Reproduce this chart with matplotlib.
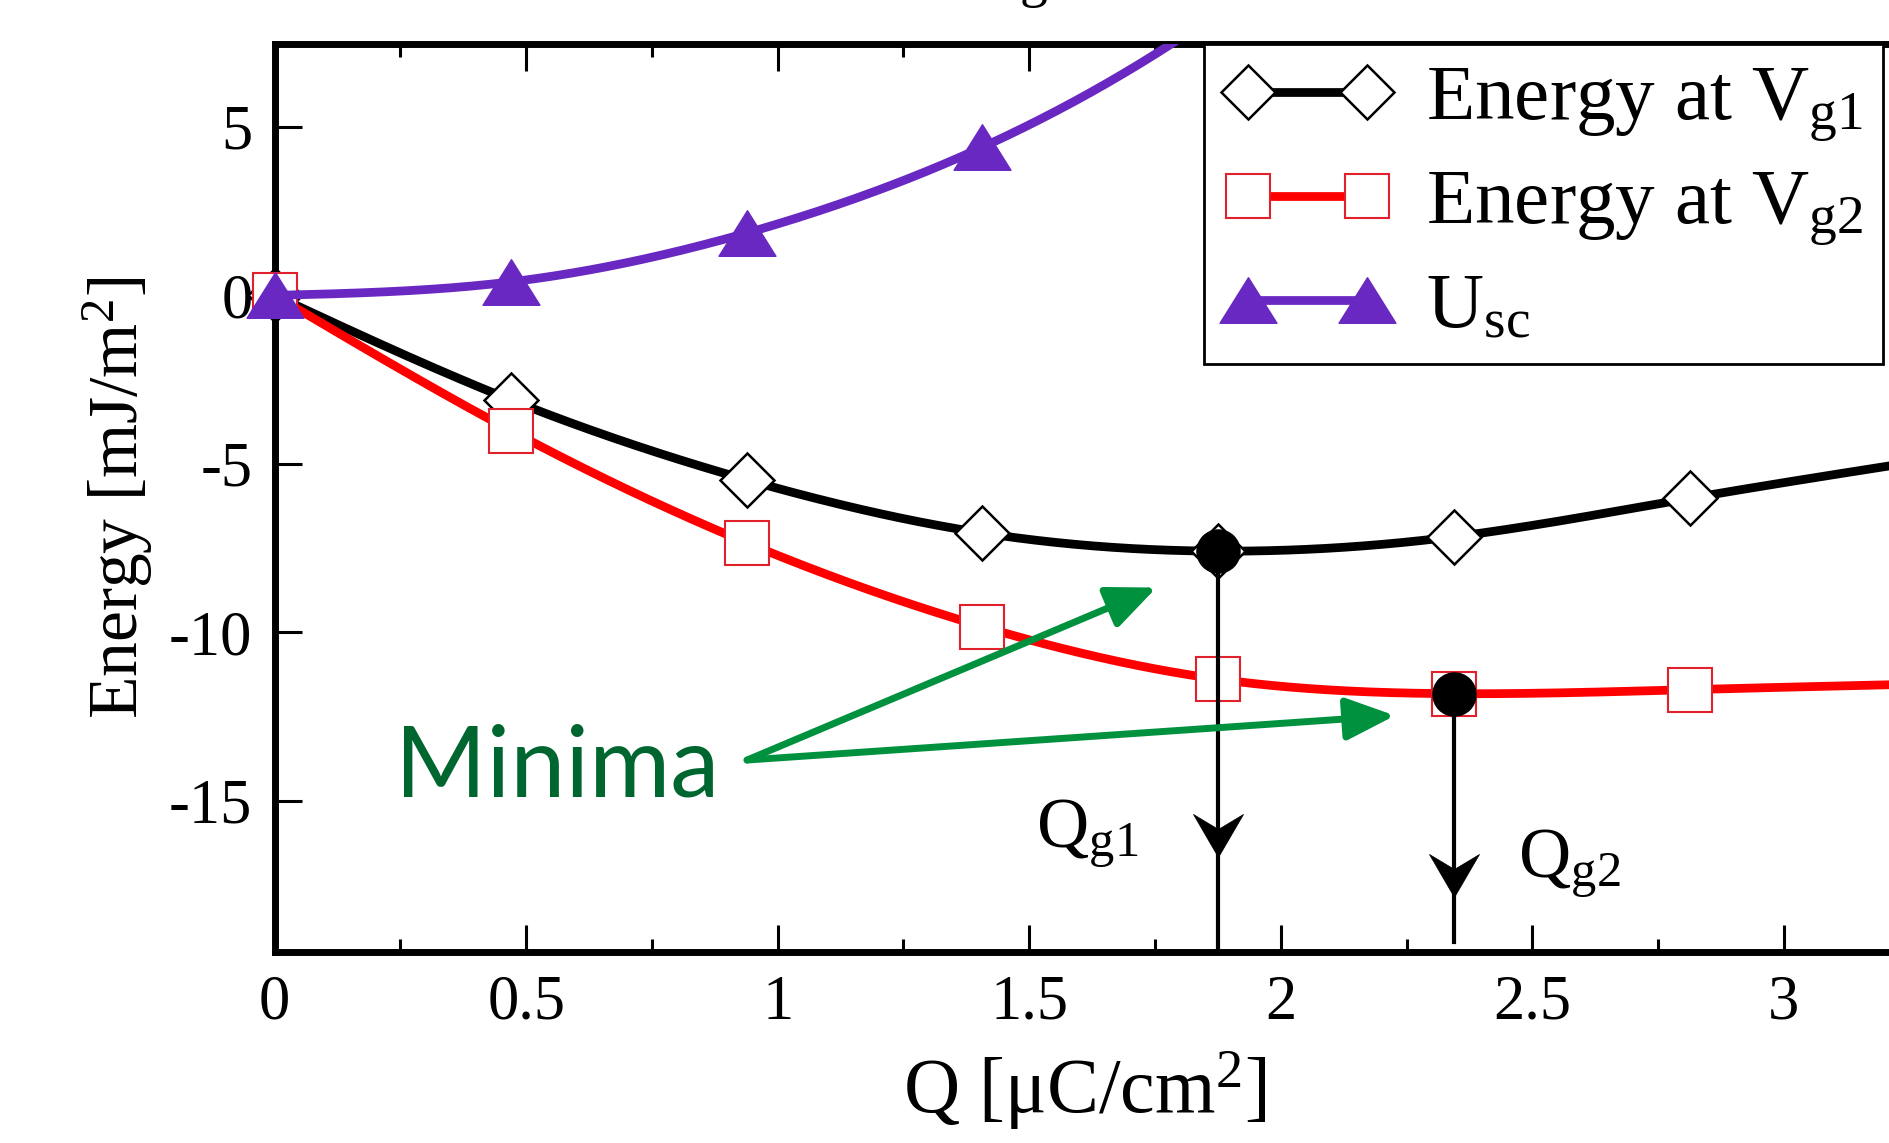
import numpy as np
import matplotlib
matplotlib.use("Agg")
import matplotlib.pyplot as plt
from matplotlib.path import Path
from matplotlib.lines import Line2D
from matplotlib.ticker import FixedLocator

plt.rcParams["font.family"] = ["Liberation Serif", "DejaVu Serif"]
plt.rcParams["mathtext.fontset"] = "custom"
plt.rcParams["mathtext.rm"] = "Liberation Serif"
plt.rcParams["mathtext.it"] = "Liberation Serif:italic"
plt.rcParams["axes.unicode_minus"] = False

# surface charge (uC/cm^2) and energies (mJ/m^2)
q = [0.0, 0.469, 0.938, 1.407, 1.876, 2.345, 2.814, 3.283]
energy_vg1 = [0.0, -3.10, -5.47, -7.05, -7.59, -7.16, -6.02, -4.89]
energy_vg2 = [0.0, -4.01, -7.34, -9.83, -11.39, -11.82, -11.70, -11.53]
u_sc = [0.0, 0.40, 1.85, 4.40, 8.4, 14.3, 22.4, 32.5]

series_labels = ["Energy at V$_{\\mathrm{g1}}$", "Energy at V$_{\\mathrm{g2}}$", "U$_{\\mathrm{sc}}$"]

# minima of the two energy curves
min_q = [1.876, 2.345]
min_energy = [-7.59, -11.82]
min_labels = ["Q$_{\\mathrm{g1}}$", "Q$_{\\mathrm{g2}}$"]
drop_tip = [-16.67, -17.85]
drop_end = [-19.5, -19.18]
min_label_pos = [(1.513, -16.4), (2.471, -17.29)]

x_ticks = [0, 0.5, 1, 1.5, 2, 2.5, 3]
x_tick_labels = ["0", "0.5", "1", "1.5", "2", "2.5", "3"]
y_ticks = [-15, -10, -5, 0, 5]
y_tick_labels = ["-15", "-10", "-5", "0", "5"]

note_text = "Minima"
note_start = (0.939, -13.79)
note_targets = [(1.753, -8.67), (2.227, -12.47)]
note_text_pos = (0.239, -14.86)

XLIM = (0, 3.221)
YLIM = (-19.5, 7.45)

PURPLE = "#6A28C2"
GREEN = "#00913F"
DARK_GREEN = "#00662F"


def natural_spline(x, y, xs):
    x = np.asarray(x, float)
    y = np.asarray(y, float)
    n = len(x)
    h = np.diff(x)
    A = np.zeros((n, n))
    b = np.zeros(n)
    A[0, 0] = A[-1, -1] = 1.0
    for i in range(1, n - 1):
        A[i, i - 1] = h[i - 1]
        A[i, i] = 2 * (h[i - 1] + h[i])
        A[i, i + 1] = h[i]
        b[i] = 3 * ((y[i + 1] - y[i]) / h[i] - (y[i] - y[i - 1]) / h[i - 1])
    c = np.linalg.solve(A, b)
    bc = (y[1:] - y[:-1]) / h - h * (2 * c[:-1] + c[1:]) / 3
    d = (c[1:] - c[:-1]) / (3 * h)
    idx = np.clip(np.searchsorted(x, xs) - 1, 0, n - 2)
    dx = xs - x[idx]
    return y[idx] + bc[idx] * dx + c[idx] * dx ** 2 + d[idx] * dx ** 3


tri_marker = Path([(-1, -0.8), (1, -0.8), (0, 0.8), (-1, -0.8)],
                  [Path.MOVETO, Path.LINETO, Path.LINETO, Path.CLOSEPOLY])
head_marker = Path([(0, 0), (-25, 43), (0, 28), (25, 43), (0, 0)],
                   [Path.MOVETO, Path.LINETO, Path.LINETO, Path.LINETO, Path.CLOSEPOLY])

fig = plt.figure(figsize=(18.89, 11.43), dpi=100)
ax = fig.add_axes([0.1454, 0.1667, 0.8578, 0.7945])

xs = np.linspace(q[0], q[-1], 600)
LW = 6.3

styles = [
    dict(color="black", marker="D", ms=28, mfc="white", mec="black", mew=1.8),
    dict(color="#FF0000", marker="s", ms=31, mfc="white", mec="#E0202A", mew=1.5),
    dict(color=PURPLE, marker=tri_marker, ms=41, mfc=PURPLE, mec=PURPLE, mew=1.0),
]
qa = np.asarray(q)
handles = []
for k, (vals, st) in enumerate(zip([energy_vg1, energy_vg2, u_sc], styles)):
    va = np.asarray(vals)
    ax.plot(xs, natural_spline(q, vals, xs), color=st["color"], lw=LW,
            solid_capstyle="round", zorder=2 + k)
    # markers inside the data range are drawn whole, even at the frame edge
    inside = (qa >= XLIM[0]) & (qa <= XLIM[1]) & (va >= YLIM[0]) & (va <= YLIM[1])
    ax.plot(qa[inside], va[inside], linestyle="none", marker=st["marker"],
            ms=st["ms"], mfc=st["mfc"], mec=st["mec"], mew=st["mew"],
            zorder=2.5 + k, clip_on=False)
    handles.append(Line2D([], [], color=st["color"], lw=LW, marker=st["marker"],
                          ms=st["ms"], mfc=st["mfc"], mec=st["mec"], mew=st["mew"]))

# vertical drops from each minimum down to the Q axis
for mq, me, tip, end, lab, lpos in zip(min_q, min_energy, drop_tip, drop_end,
                                       min_labels, min_label_pos):
    ax.plot([mq, mq], [me, end], color="black", lw=3.0, zorder=6)
    ax.plot([mq], [tip], linestyle="none", marker=head_marker, ms=62,
            mfc="black", mec="black", mew=0.5, zorder=6)
    ax.plot([mq], [me], linestyle="none", marker="o", ms=31, mfc="black",
            mec="black", zorder=7)
    ax.text(lpos[0], lpos[1], lab, fontsize=52, ha="left", va="baseline", zorder=8)

# "Minima" note with arrows
for tgt in note_targets:
    ax.annotate("", xy=tgt, xytext=note_start, zorder=9,
                arrowprops=dict(arrowstyle="-|>,head_length=3.0,head_width=1.3",
                                mutation_scale=10, color=GREEN, lw=5,
                                shrinkA=0, shrinkB=0))
ax.text(note_text_pos[0], note_text_pos[1], note_text, fontsize=71,
        family=["Lato", "DejaVu Sans"], color=DARK_GREEN, ha="left",
        va="baseline", zorder=9)

ax.set_xlim(*XLIM)
ax.set_ylim(*YLIM)
ax.set_xticks(x_ticks)
ax.set_xticklabels(x_tick_labels)
ax.xaxis.set_minor_locator(FixedLocator([0.25, 0.75, 1.25, 1.75, 2.25, 2.75]))
ax.set_yticks(y_ticks)
ax.set_yticklabels(y_tick_labels)
ax.tick_params(which="both", direction="in", top=True, right=False, width=2.2,
               labelsize=45, pad=16)
ax.tick_params(which="major", length=19.5)
ax.tick_params(which="minor", length=9.5)
for sp in ax.spines.values():
    sp.set_linewidth(5.0)

ax.set_xlabel("Q [\u03bcC/cm$^{2}$]", fontsize=56, labelpad=12)
ax.set_ylabel("Energy [mJ/m$^{2}$]", fontsize=50, labelpad=10)

leg = ax.legend(handles, series_labels, loc="upper right",
                bbox_to_anchor=(1883 / 1889, 1 - 44.3 / 1143),
                bbox_transform=fig.transFigure, borderaxespad=0, numpoints=2,
                fontsize=57, handlelength=2.1, handletextpad=0.45,
                labelspacing=0.3, borderpad=0.25, fancybox=False,
                framealpha=1, edgecolor="black")
leg.get_frame().set_linewidth(2.0)
leg.set_zorder(20)

# lower part of the heading that sits above the frame
fig.text(0.547, 1 + 4 / 1143, "g", fontsize=40, ha="center", va="baseline")

fig.savefig("out.png", dpi=100)
